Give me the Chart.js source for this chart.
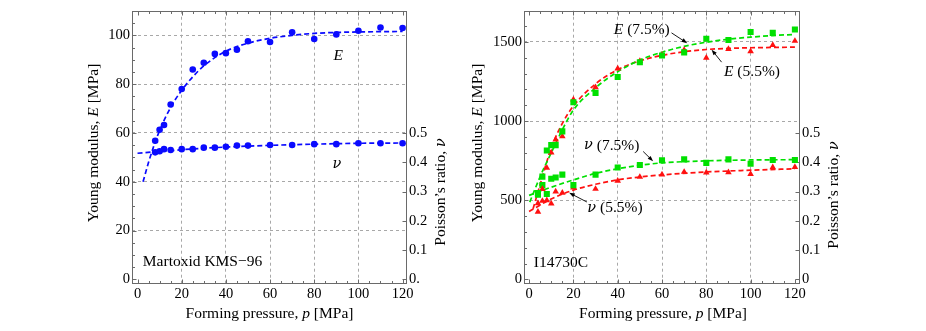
<!DOCTYPE html>
<html>
<head>
<meta charset="utf-8">
<script src="https://cdn.jsdelivr.net/npm/chart.js@4.4.1/dist/chart.umd.min.js"></script>
<style>
html, body { margin: 0; padding: 0; background: #fff; }
#wrap { position: relative; width: 926px; height: 331px; }
canvas { position: absolute; top: 0; }
</style>
</head>
<body>
<div id="wrap">
<canvas id="left" width="463" height="331" style="left:0"></canvas>
<canvas id="right" width="463" height="331" style="left:463px"></canvas>
</div>
<script>
// Martoxid KMS-96 (left panel)
var kms_p = [8, 10, 12, 15, 20, 25, 30, 35, 40, 45, 50, 60, 70, 80, 90, 100, 110, 120];
var kms_E = [56.8, 61.3, 63.3, 71.7, 78, 86, 88.8, 92.4, 92.7, 94.1, 97.6, 97.3, 101.3, 98.5, 100.4, 101.9, 103.2, 103];
var kms_nu = [0.434, 0.438, 0.445, 0.442, 0.445, 0.445, 0.45, 0.45, 0.453, 0.457, 0.457, 0.459, 0.459, 0.462, 0.462, 0.465, 0.465, 0.465];
var kms_fitE_p = [2.5, 5, 7.5, 10, 15, 20, 25, 30, 40, 50, 60, 70, 80, 90, 100, 120];
var kms_fitE = [40, 48, 55, 61, 70.5, 77.5, 83, 87.5, 93.5, 96.8, 98.8, 100, 100.8, 101.2, 101.4, 101.6];
var kms_fitNu_p = [0, 10, 20, 30, 40, 60, 80, 100, 120];
var kms_fitNu = [0.431, 0.437, 0.443, 0.448, 0.452, 0.458, 0.462, 0.465, 0.466];

// I14730C (right panel), 7.5% and 5.5%
var ic_p = [4, 6, 8, 10, 12, 15, 20, 30, 40, 50, 60, 70, 80, 90, 100, 110, 120];
var ic_E75 = [545, 649, 814, 848, 848, 935, 1119, 1178, 1278, 1372, 1414, 1434, 1520, 1512, 1562, 1557, 1578];
var ic_E55 = [481, 571, 705, 801, 883, 904, 1136, 1213, 1332, 1379, 1418, 1449, 1400, 1455, 1440, 1480, 1506];
var ic_nu75 = [0.289, 0.322, 0.292, 0.344, 0.348, 0.358, 0.322, 0.358, 0.382, 0.391, 0.407, 0.41, 0.398, 0.41, 0.395, 0.408, 0.408];
var ic_nu55 = [0.231, 0.268, 0.27, 0.259, 0.3, 0.296, 0.314, 0.309, 0.337, 0.35, 0.358, 0.367, 0.365, 0.366, 0.36, 0.383, 0.384];
var ic_fitE75_p = [0.3, 5, 10, 15, 20, 30, 40, 50, 60, 70, 80, 90, 100, 110, 120];
var ic_fitE75 = [488, 650, 800, 945, 1070, 1210, 1312, 1385, 1435, 1472, 1498, 1517, 1530, 1540, 1547];
var ic_fitE55_p = [1.8, 5, 10, 15, 20, 30, 40, 50, 60, 70, 80, 90, 100, 110, 120];
var ic_fitE55 = [446, 600, 830, 985, 1095, 1235, 1325, 1380, 1415, 1438, 1452, 1459, 1463, 1465, 1467];
var ic_fitNu_p = [0, 10, 20, 30, 40, 50, 60, 80, 100, 120];
var ic_fitNu75 = [0.287, 0.315, 0.34, 0.362, 0.378, 0.39, 0.398, 0.405, 0.408, 0.409];
var ic_fitNu55 = [0.232, 0.275, 0.305, 0.325, 0.34, 0.35, 0.357, 0.367, 0.373, 0.378];

// tick labels
var p_ticks = [0, 20, 40, 60, 80, 100, 120];
var kms_E_ticks = [0, 20, 40, 60, 80, 100];
var ic_E_ticks = [0, 500, 1000, 1500];
var nu_ticks = [0, 0.1, 0.2, 0.3, 0.4, 0.5];
var nu_labels_left = ['0.', '0.1', '0.2', '0.3', '0.4', '0.5'];
var nu_labels_right = ['0', '0.1', '0.2', '0.3', '0.4', '0.5'];

var SERIF = '"Liberation Serif", "DejaVu Serif", serif';
var GREEK = '"DejaVu Serif", serif';
var BLUE = '#0a0aff', GREEN = '#00e000', RED = '#ff1010';

function pts(xs, ys) {
    return xs.map(function (x, i) { return { x: x, y: ys[i] }; });
}

function marks(label, xs, ys, color, style, r, axis) {
    return {
        label: label, data: pts(xs, ys), yAxisID: axis,
        showLine: false, pointStyle: style, pointRadius: r,
        backgroundColor: color, borderColor: color, borderWidth: 0
    };
}

function fit(label, xs, ys, color, axis) {
    return {
        label: label, data: pts(xs, ys), yAxisID: axis,
        showLine: true, pointRadius: 0, borderColor: color, borderWidth: 1.7,
        borderDash: [5, 3], cubicInterpolationMode: 'monotone', fill: false
    };
}

// parts: [text, italic, greek]
function partFont(pt, size) {
    if (pt[2]) return 'italic ' + (size - 1) + 'px ' + GREEK;
    return (pt[1] ? 'italic ' : '') + size + 'px ' + SERIF;
}

function drawRich(ctx, parts, x, y, align, size) {
    var w = 0;
    parts.forEach(function (pt) {
        ctx.font = partFont(pt, size);
        w += ctx.measureText(pt[0]).width;
    });
    var cx = align == 'right' ? x - w : (align == 'center' ? x - w / 2 : x);
    ctx.textAlign = 'left';
    ctx.textBaseline = 'middle';
    ctx.fillStyle = '#000';
    parts.forEach(function (pt) {
        ctx.font = partFont(pt, size);
        ctx.fillText(pt[0], cx, y);
        cx += ctx.measureText(pt[0]).width;
    });
}

// frame, inward ticks, labels, arrows, axis titles
var decor = {
    id: 'decor',
    beforeDatasetsDraw: function (chart, args, o) {
        var a = chart.chartArea, ctx = chart.ctx;
        var sx = chart.scales.x, sy = chart.scales.y, s2 = chart.scales.y2;
        var L = Math.round(a.left) + 0.5, R = Math.round(a.right) - 0.5;
        var T = Math.round(a.top) + 0.5, B = Math.round(a.bottom) - 0.5;
        ctx.save();
        ctx.strokeStyle = '#6a6a6a';
        ctx.lineWidth = 1;
        ctx.beginPath();
        var v, px, len;
        for (v = 0; v <= 120.001; v += 5) {
            px = Math.round(sx.getPixelForValue(v)) + 0.5;
            len = v % 20 == 0 ? 4 : 2.5;
            ctx.moveTo(px, B); ctx.lineTo(px, B - len);
            ctx.moveTo(px, T); ctx.lineTo(px, T + len);
        }
        for (v = 0; v <= o.eMax + 0.001; v += o.eMinor) {
            px = Math.round(sy.getPixelForValue(v)) + 0.5;
            len = Math.abs(v / o.eMajor - Math.round(v / o.eMajor)) < 1e-6 ? 4 : 2.5;
            ctx.moveTo(L, px); ctx.lineTo(L + len, px);
        }
        for (v = 0; v <= 0.5001; v += 0.1) {
            px = Math.round(s2.getPixelForValue(v)) + 0.5;
            ctx.moveTo(R, px); ctx.lineTo(R - 4, px);
        }
        ctx.stroke();
        ctx.strokeRect(L, T, R - L, B - T);
        ctx.restore();
    },
    afterDraw: function (chart, args, o) {
        var ctx = chart.ctx, sx = chart.scales.x, sy = chart.scales.y;
        ctx.save();
        o.notes.forEach(function (n) {
            drawRich(ctx, n.parts, sx.getPixelForValue(n.x), sy.getPixelForValue(n.y), n.align, 15.5);
        });
        ctx.strokeStyle = '#000';
        ctx.fillStyle = '#000';
        ctx.lineWidth = 0.9;
        o.arrows.forEach(function (ar) {
            var x1 = sx.getPixelForValue(ar[0]), y1 = sy.getPixelForValue(ar[1]);
            var x2 = sx.getPixelForValue(ar[2]), y2 = sy.getPixelForValue(ar[3]);
            var ang = Math.atan2(y2 - y1, x2 - x1);
            ctx.beginPath();
            ctx.moveTo(x1, y1);
            ctx.lineTo(x2 - 4 * Math.cos(ang), y2 - 4 * Math.sin(ang));
            ctx.stroke();
            ctx.beginPath();
            ctx.moveTo(x2, y2);
            ctx.lineTo(x2 - 6 * Math.cos(ang - 0.35), y2 - 6 * Math.sin(ang - 0.35));
            ctx.lineTo(x2 - 6 * Math.cos(ang + 0.35), y2 - 6 * Math.sin(ang + 0.35));
            ctx.closePath();
            ctx.fill();
        });
        o.titles.forEach(function (t) {
            ctx.save();
            ctx.translate(t.x, t.y);
            if (t.rot) ctx.rotate(-Math.PI / 2);
            drawRich(ctx, t.parts, 0, 0, 'center', 15.5);
            ctx.restore();
        });
        ctx.restore();
    }
};

function gridColor(ctx) {
    var v = ctx.tick ? ctx.tick.value : 0;
    return (v == 0 || v == 120) ? 'rgba(0,0,0,0)' : '#a8a8a8';
}

function plain(v) { return String(v); }

function makeScales(c) {
    var tickFont = { family: SERIF, size: 14.5 };
    return {
        x: {
            type: 'linear', min: c.xMin, max: c.xMax,
            afterFit: function (s) { s.height = 47; },
            afterBuildTicks: function (s) { s.ticks = p_ticks.map(function (v) { return { value: v }; }); },
            ticks: { font: tickFont, color: '#000', padding: 1, maxRotation: 0, autoSkip: false, callback: plain },
            grid: { color: gridColor, drawTicks: false, lineWidth: 1 },
            border: { display: false, dash: [3, 3] }
        },
        y: {
            type: 'linear', position: 'left', min: c.eMin, max: c.eMax,
            afterFit: function (s) { s.width = c.leftW; },
            afterBuildTicks: function (s) { s.ticks = c.eTicks.map(function (v) { return { value: v }; }); },
            ticks: { font: tickFont, color: '#000', padding: 2, autoSkip: false, callback: plain },
            grid: { color: function (ctx) { return ctx.tick && ctx.tick.value == 0 ? 'rgba(0,0,0,0)' : '#a8a8a8'; }, drawTicks: false, lineWidth: 1 },
            border: { display: false, dash: [3, 3] }
        },
        y2: {
            type: 'linear', position: 'right', min: c.nuMin, max: c.nuMax,
            afterFit: function (s) { s.width = c.rightW; },
            afterBuildTicks: function (s) { s.ticks = nu_ticks.map(function (v) { return { value: v }; }); },
            ticks: {
                font: tickFont, color: '#000', padding: 2, autoSkip: false,
                callback: function (v, i) { return c.nuLabels[i]; }
            },
            grid: { display: false, drawTicks: false },
            border: { display: false }
        }
    };
}

new Chart(document.getElementById('left'), {
    type: 'scatter',
    data: {
        datasets: [
            marks('E', kms_p, kms_E, BLUE, 'circle', 3.3, 'y'),
            marks('nu', kms_p, kms_nu, BLUE, 'circle', 3.3, 'y2'),
            fit('E fit', kms_fitE_p, kms_fitE, BLUE, 'y'),
            fit('nu fit', kms_fitNu_p, kms_fitNu, BLUE, 'y2')
        ]
    },
    options: {
        responsive: false, animation: false, devicePixelRatio: 1,
        layout: { padding: { top: 4, left: 0, right: 0, bottom: 0 } },
        scales: makeScales({
            xMin: -2.5, xMax: 122, eMin: -1.87, eMax: 110.1, eTicks: kms_E_ticks,
            nuMin: -0.0156, nuMax: 0.9178, nuLabels: nu_labels_left, leftW: 132, rightW: 56
        }),
        plugins: {
            legend: { display: false }, tooltip: { enabled: false },
            decor: {
                eMax: 110, eMinor: 5, eMajor: 20,
                notes: [
                    { x: 90.9, y: 91.7, parts: [['E', 1]], align: 'center' },
                    { x: 90.3, y: 47, parts: [['ν', 1, 1]], align: 'center' },
                    { x: 2.4, y: 7, parts: [['Martoxid KMS−96', 0]], align: 'left' }
                ],
                arrows: [],
                titles: [
                    { x: 93.5, y: 143, rot: true, parts: [['Young modulus, ', 0], ['E', 1], [' [MPa]', 0]] },
                    { x: 441, y: 192, rot: true, parts: [['Poisson’s ratio, ', 0], ['ν', 1, 1]] },
                    { x: 269.5, y: 314, rot: false, parts: [['Forming pressure, ', 0], ['p', 1], [' [MPa]', 0]] }
                ]
            }
        }
    },
    plugins: [decor]
});

new Chart(document.getElementById('right'), {
    type: 'scatter',
    data: {
        datasets: [
            marks('E 7.5%', ic_p, ic_E75, GREEN, 'rect', 4.3, 'y'),
            marks('E 5.5%', ic_p, ic_E55, RED, 'triangle', 3.8, 'y'),
            marks('nu 7.5%', ic_p, ic_nu75, GREEN, 'rect', 4.3, 'y2'),
            marks('nu 5.5%', ic_p, ic_nu55, RED, 'triangle', 3.8, 'y2'),
            fit('E 7.5% fit', ic_fitE75_p, ic_fitE75, GREEN, 'y'),
            fit('E 5.5% fit', ic_fitE55_p, ic_fitE55, RED, 'y'),
            fit('nu 7.5% fit', ic_fitNu_p, ic_fitNu75, GREEN, 'y2'),
            fit('nu 5.5% fit', ic_fitNu_p, ic_fitNu55, RED, 'y2')
        ]
    },
    options: {
        responsive: false, animation: false, devicePixelRatio: 1,
        layout: { padding: { top: 4, left: 0, right: 0, bottom: 0 } },
        scales: makeScales({
            xMin: -2.3, xMax: 122.3, eMin: -28.8, eMax: 1697, eTicks: ic_E_ticks,
            nuMin: -0.0156, nuMax: 0.9178, nuLabels: nu_labels_right, leftW: 61, rightW: 126
        }),
        plugins: {
            legend: { display: false }, tooltip: { enabled: false },
            decor: {
                eMax: 1690, eMinor: 100, eMajor: 500,
                notes: [
                    { x: 63.5, y: 1574, parts: [['E', 1], [' (7.5%)', 0]], align: 'right' },
                    { x: 88, y: 1311, parts: [['E', 1], [' (5.5%)', 0]], align: 'left' },
                    { x: 49.8, y: 846, parts: [['ν', 1, 1], [' (7.5%)', 0]], align: 'right' },
                    { x: 26.3, y: 452, parts: [['ν', 1, 1], [' (5.5%)', 0]], align: 'left' },
                    { x: 2.1, y: 102, parts: [['I14730C', 0]], align: 'left' }
                ],
                arrows: [
                    [64.3, 1557, 71.4, 1492],
                    [86.9, 1372, 82.4, 1451],
                    [51.5, 808, 56, 746],
                    [26.1, 489, 18.1, 547]
                ],
                titles: [
                    { x: 15.3, y: 143, rot: true, parts: [['Young modulus, ', 0], ['E', 1], [' [MPa]', 0]] },
                    { x: 371, y: 195, rot: true, parts: [['Poisson’s ratio, ', 0], ['ν', 1, 1]] },
                    { x: 200, y: 314, rot: false, parts: [['Forming pressure, ', 0], ['p', 1], [' [MPa]', 0]] }
                ]
            }
        }
    },
    plugins: [decor]
});
</script>
</body>
</html>
